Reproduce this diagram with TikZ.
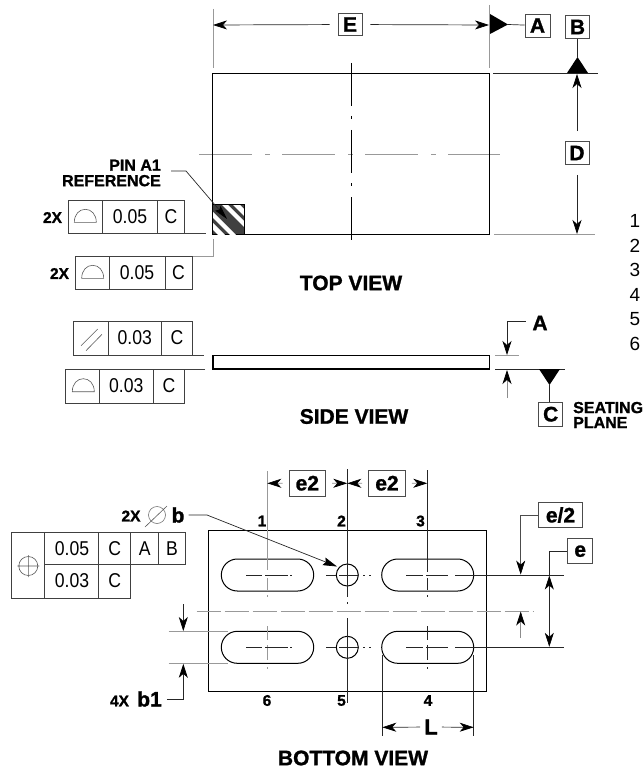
\documentclass[tikz,border=0pt]{standalone}
\usepackage{fontspec}
\setmainfont{Liberation Sans}[BoldFeatures={FakeBold=1.2}]
\usetikzlibrary{arrows.meta}
\newcommand{\narrowtxt}[1]{\scalebox{.88}[1]{\fontsize{20}{20}\selectfont #1}}
\tikzset{
  x=1pt,y=-1pt,
  outline/.style={line width=1.3pt,black},
  thinline/.style={line width=.7pt,black!85},
  greyline/.style={line width=.9pt,black!40},
  fcfline/.style={line width=.8pt,black!75},
  symline/.style={line width=.6pt,black!65},
  dimarr/.style={line width=.7pt,black!85,-{Stealth[black,length=14pt,width=9pt,inset=4pt]}},
  dimgrey/.style={dimarr,draw=black!45},
  lbl/.style={draw=black!70,line width=.9pt,inner sep=0pt,font=\fontsize{21}{21}\selectfont\bfseries},
  title/.style={inner sep=0pt,font=\fontsize{21}{21}\selectfont\bfseries},
  small/.style={inner sep=0pt,font=\fontsize{15.5}{15.5}\selectfont\bfseries},
  fcftext/.style={inner sep=0pt},
  note/.style={inner sep=0pt,font=\fontsize{19}{19}\selectfont},
  halfsym/.pic={\draw[symline] (-11,0) .. controls (-11,-8) and (-6,-13) .. (0,-13) .. controls (6,-13) and (11,-8) .. (11,0) -- cycle;},
}
\begin{document}
\begin{tikzpicture}
\useasboundingbox (0,0) rectangle (643,770);
% ---------- TOP VIEW
\draw[greyline] (213,9) -- (213,68);
\draw[greyline] (489.3,5) -- (489.3,68);
\draw[greyline] (213,239) -- (213,256.3) -- (192,256.3);
\draw[greyline,dash pattern=on 53pt off 13pt on 5pt off 12pt] (199,154) -- (500,154);
\draw[line width=.8pt,black,dash pattern=on 43pt off 10pt on 3pt off 11pt] (351.3,63) -- (351.3,240);
\draw[outline] (212.7,73.7) rectangle (489.3,234.3);
% pin A1 square
\begin{scope}
\clip (213,204) rectangle (244,234);
\fill[black!75] (213,204) rectangle (244,234);
\foreach \a/\b in {19/26,8/14,-14/-8,-26/-19}{
  \fill[white] (213+\a,204) -- (213+\b,204) -- (213+\b+40,244) -- (213+\a+40,244) -- cycle;
}
\end{scope}
\draw[line width=.9pt] (213,204) -- (244,204) -- (244,234);
\coordinate (pinend) at (227,219);
\coordinate (pinbend) at (186,171);
\coordinate (pinfree) at (171,171);
\node[inner sep=0pt,anchor=east,align=right,font=\fontsize{16}{15.5}\selectfont\bfseries] (pinlabel) at (161,173) {PIN A1\\REFERENCE};
\draw[thinline,-{Stealth[black,length=14pt,width=7pt,inset=2pt]}] (pinfree) -- (pinbend) -- (pinend);
% E dimension
\node[lbl,minimum width=24pt,minimum height=22pt] (E) at (350,24.5) {E};
\coordinate (Eleft) at (213,25);
\coordinate (Eright) at (489,25);
\draw[dimarr,shorten <=8pt] (E) -- (Eleft);
\draw[dimarr,shorten <=8pt] (E) -- (Eright);
% datum A
\node[lbl,minimum width=25pt,minimum height=23pt] (boxA) at (537.5,25.5) {A};
\coordinate (triA) at (508,24.5);
\fill (490,14) -- (508,24.5) -- (490,34) -- cycle;
\draw[thinline] (triA) -- (boxA);
% datum B
\node[lbl,minimum width=24pt,minimum height=23pt] (boxB) at (577.5,27) {B};
\coordinate (triB) at (577.5,57);
\fill (567,73) -- (577.5,57) -- (588,73) -- cycle;
\draw[thinline] (boxB) -- (triB);
\draw[thinline] (493,73.3) -- (598,73.3);
\draw[greyline] (494,234) -- (595,234);
% D dimension
\node[lbl,minimum width=24pt,minimum height=23pt] (D) at (577,153) {D};
\coordinate (Dtop) at (577,74);
\coordinate (Dbot) at (577,234);
\draw[dimarr,shorten <=10pt] (D) -- (Dtop);
\draw[dimarr,shorten <=10pt] (D) -- (Dbot);
% notes list
\foreach \n/\yy in {1/221,2/245.5,3/270,4/295,5/319.5,6/344}{
  \node[note] (note\n) at (635,\yy) {\n};
}
% FCF 1
\draw[fcfline] (205.7,233.7) -- (68.7,233.7) -- (68.7,200.7) -- (184.3,200.7) -- (184.3,233.7);
\draw[fcfline] (102.7,200.7) -- (102.7,233.7) (157.3,200.7) -- (157.3,233.7);
\pic at (85.3,222.3) {halfsym};
\node[fcftext] (f1a) at (130,217) {\narrowtxt{0.05}};
\node[fcftext] (f1b) at (171,217) {\narrowtxt{C}};
\node[small] (f1x) at (52.5,217.5) {2X};
% FCF 2
\draw[fcfline] (75.3,256.3) rectangle (192,289.3);
\draw[fcfline] (109.3,256.3) -- (109.3,289.3) (165,256.3) -- (165,289.3);
\pic at (92.7,278.3) {halfsym};
\node[fcftext] (f2a) at (137,273) {\narrowtxt{0.05}};
\node[fcftext] (f2b) at (178.5,273) {\narrowtxt{C}};
\node[small] (f2x) at (59.5,273.5) {2X};
\node[title] (tv) at (351,283) {TOP VIEW};
% ---------- SIDE VIEW
\draw[outline] (213,355.5) rectangle (489.3,369);
% FCF 3
\draw[fcfline] (203.7,355) -- (73.3,355) -- (73.3,321.7) -- (192.7,321.7) -- (192.7,355);
\draw[fcfline] (108.3,321.7) -- (108.3,355) (161.3,321.7) -- (161.3,355);
\draw[symline] (81,345.7) -- (97.7,329) (86,350.7) -- (102,334.3);
\node[fcftext] (f3a) at (134.8,338) {\narrowtxt{0.03}};
\node[fcftext] (f3b) at (177,338) {\narrowtxt{C}};
% FCF 4
\draw[fcfline] (205,369.3) -- (65,369.3) -- (65,403) -- (184.3,403) -- (184.3,369.3);
\draw[fcfline] (99.3,369.3) -- (99.3,403) (153.3,369.3) -- (153.3,403);
\pic at (83.3,391.7) {halfsym};
\node[fcftext] (f4a) at (126.3,386) {\narrowtxt{0.03}};
\node[fcftext] (f4b) at (169,386) {\narrowtxt{C}};
% A dimension
\draw[greyline] (495,355.3) -- (519,355.3);
\draw[thinline] (495,369.2) -- (565,369.2);
\node[title] (sideA) at (540,323) {A};
\coordinate (Abend) at (507,321.7);
\coordinate (Aupper) at (507,355);
\coordinate (Afree) at (507,398);
\coordinate (Alower) at (507,370);
\draw[dimarr] (sideA.west) ++(-6.5,-1.3) -- (Abend) -- (Aupper);
\draw[dimgrey] (Afree) -- (Alower);
% datum C
\node[lbl,minimum width=24pt,minimum height=23.5pt] (boxC) at (550.7,414.2) {C};
\coordinate (triC) at (549.5,385);
\fill (539,369) -- (560,369) -- (549.5,385) -- cycle;
\draw[thinline] (triC) -- (boxC.north -| triC);
\node[inner sep=0pt,anchor=west,align=left,font=\fontsize{16}{15}\selectfont\bfseries] (seat) at (573,415) {SEATING\\PLANE};
\node[title] (sv) at (354,416.5) {SIDE VIEW};
% ---------- BOTTOM VIEW
\draw[outline] (208.7,530.7) rectangle (486.3,691.7);
\draw[outline,line width=1pt] (237.3,559) -- (297.7,559) arc[start angle=-90,end angle=90,radius=16] -- (237.3,591) arc[start angle=90,end angle=270,radius=16] -- cycle;
\draw[outline,line width=1pt] (237.3,631.3) -- (297.7,631.3) arc[start angle=-90,end angle=90,radius=16] -- (237.3,663.3) arc[start angle=90,end angle=270,radius=16] -- cycle;
\draw[outline,line width=1pt] (397.7,559) -- (457.7,559) arc[start angle=-90,end angle=90,radius=16] -- (397.7,591) arc[start angle=90,end angle=270,radius=16] -- cycle;
\draw[outline,line width=1pt] (397.7,631.3) -- (457.7,631.3) arc[start angle=-90,end angle=90,radius=16] -- (397.7,663.3) arc[start angle=90,end angle=270,radius=16] -- cycle;
\draw[line width=1pt] (347.3,575) circle[radius=11];
\draw[line width=1pt] (347.3,647.3) circle[radius=11];
% bottom centre lines
\draw[greyline,dash pattern=on 24pt off 4pt] (196.7,611) -- (533,611);
\draw[greyline] (267.3,471) -- (267.3,570) (267.3,578) -- (267.3,590) (267.3,595) -- (267.3,597) (267.3,626) -- (267.3,640) (267.3,645) -- (267.3,660) (267.3,667) -- (267.3,669);
\draw[thinline] (347.3,469) -- (347.3,597) (347.3,602) -- (347.3,604) (347.3,618) -- (347.3,703);
\draw[thinline] (427.3,470) -- (427.3,572) (427.3,578) -- (427.3,590) (427.3,595) -- (427.3,597) (427.3,626) -- (427.3,640) (427.3,645) -- (427.3,660) (427.3,667) -- (427.3,669);
\foreach \yy in {575,647.3}{
  \draw[thinline] (246,\yy) -- (262,\yy) (265,\yy) -- (288,\yy) (290,\yy) -- (291.5,\yy);
  \draw[thinline] (326,\yy) -- (336,\yy) (339,\yy) -- (358,\yy) (363,\yy) -- (365,\yy) (369,\yy) -- (370.5,\yy);
  \draw[thinline] (406,\yy) -- (423,\yy) (426,\yy) -- (448,\yy) (455,\yy) -- (564,\yy);
}
% pin numbers
\foreach \n/\xx/\yy in {1/262/521,2/341.5/521,3/420.5/521,6/267/700.5,5/341.5/700.5,4/428/700.5}{
  \node[small] (num\n) at (\xx,\yy) {\n};
}
% e2 dimensions
\node[lbl,minimum width=36.7pt,minimum height=25.7pt] (e2a) at (307.3,483.2) {e2};
\node[lbl,minimum width=36.7pt,minimum height=25.7pt] (e2b) at (387,483.2) {e2};
\coordinate (e2al) at (267.3,483.3);
\coordinate (e2am) at (347.3,483.3);
\coordinate (e2bm) at (347.3,483.3);
\coordinate (e2br) at (427.3,483.3);
\draw[dimgrey,shorten <=6pt] (e2a) -- (e2al);
\draw[dimgrey,shorten <=6pt] (e2a) -- (e2am);
\draw[dimgrey,shorten <=6pt] (e2b) -- (e2bm);
\draw[dimgrey,shorten <=6pt] (e2b) -- (e2br);
% b leader
\node[title] (bsym) at (178,515) {b};
\node[small] (bx) at (131,516) {2X};
\node[draw=black!55,line width=.6pt,circle,minimum size=17pt,inner sep=0pt] (phi) at (157,515) {};
\draw[symline] (145,527) -- (167,506);
\coordinate (bbend) at (207,515);
\coordinate (bend) at (337,566.5);
\draw[thinline,-{Stealth[black,length=14pt,width=8pt,inset=2pt]}] (bsym.east) ++(4,0) -- (bbend) -- (bend);
% big FCF
\draw[fcfline] (11.3,532) rectangle (44.7,598.3);
\draw[fcfline] (44.7,532) -- (185.3,532) -- (185.3,564.7) -- (44.7,564.7);
\draw[fcfline] (44.7,598.3) -- (130.7,598.3) -- (130.7,532);
\draw[fcfline] (98.7,532) -- (98.7,598.3) (158.7,532) -- (158.7,564.7);
\draw[symline] (28.3,566) circle[radius=9.5] (17.3,566) -- (39.3,566) (28.3,555) -- (28.3,577);
\node[fcftext] (g1) at (72,549) {\narrowtxt{0.05}};
\node[fcftext] (g2) at (114.7,549) {\narrowtxt{C}};
\node[fcftext] (g3) at (144.7,549) {\narrowtxt{A}};
\node[fcftext] (g4) at (172,549) {\narrowtxt{B}};
\node[fcftext] (g5) at (72,581) {\narrowtxt{0.03}};
\node[fcftext] (g6) at (114.7,581) {\narrowtxt{C}};
% b1 dimension
\draw[greyline] (168.7,631.3) -- (228,631.3);
\draw[greyline] (168.7,663.3) -- (228,663.3);
\coordinate (b1top) at (183.3,604);
\coordinate (b1topend) at (183.3,631);
\coordinate (b1bend) at (183.3,699.5);
\coordinate (b1end) at (183.3,663.8);
\node[small] (b1x) at (119.5,701) {4X};
\node[title] (b1) at (149.5,699) {b1};
\draw[dimarr] (b1top) -- (b1topend);
\draw[dimarr] (b1.east) ++(5,.5) -- (b1bend) -- (b1end);
% e/2 dimension
\node[lbl,minimum width=43.6pt,minimum height=24.6pt] (ehalf) at (560.5,515) {e/2};
\coordinate (ehbend) at (520.7,515);
\coordinate (ehend) at (520.7,574.6);
\coordinate (ehfree) at (520.7,637.7);
\coordinate (ehmid) at (520.7,611.5);
\draw[dimarr,draw=black!70] (ehalf) -- (ehbend) -- (ehend);
\draw[dimgrey] (ehfree) -- (ehmid);
% e dimension
\node[lbl,minimum width=25pt,minimum height=25pt] (efull) at (580.2,551.2) {e};
\coordinate (ebend) at (549.3,551.2);
\coordinate (emid) at (549.3,610);
\coordinate (etop) at (549.3,575.5);
\coordinate (ebot) at (549.3,646.8);
\draw[thinline] (efull) -- (ebend) -- (etop);
\draw[dimarr] (emid) -- (etop);
\draw[dimarr] (emid) -- (ebot);
% L dimension
\draw[thinline] (382.3,655) -- (382.3,736);
\draw[thinline] (473.7,655) -- (473.7,736);
\node[inner sep=0pt,font=\fontsize{22}{22}\selectfont\bfseries] (Lbl) at (431,727) {L};
\coordinate (Lleft) at (382.3,727.3);
\coordinate (Lright) at (473.7,727.3);
\draw[dimarr,shorten <=4pt] (Lbl) -- (Lleft);
\draw[dimarr,shorten <=4pt] (Lbl) -- (Lright);
\node[title] (bv) at (353,758) {BOTTOM VIEW};
\end{tikzpicture}
\end{document}
